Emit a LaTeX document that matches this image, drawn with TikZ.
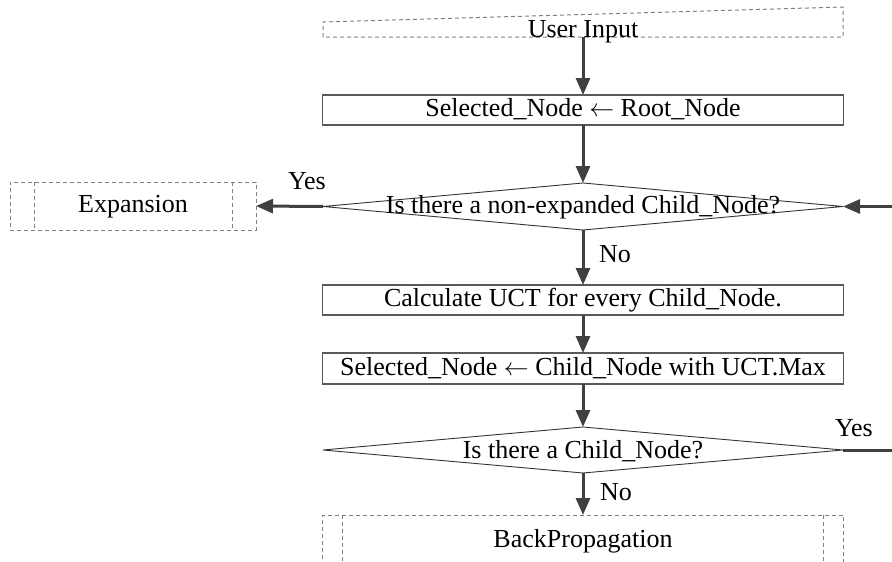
\documentclass[tikz,border=0pt]{standalone}
\usepackage{fontspec}
\setmainfont{Liberation Serif}
\usetikzlibrary{arrows.meta,shapes.geometric}
\newcommand{\myarr}{\ensuremath{\leftarrow}}
\begin{document}
\begin{tikzpicture}[x=1pt,y=-1pt,
  every node/.style={font=\fontsize{26}{30}\selectfont, inner sep=0pt, outer sep=0pt},
  procbox/.style={draw=black!65, line width=1.2pt, minimum width=521pt, minimum height=30pt, text height=18pt, text depth=5pt},
  dashbox/.style={draw=black!50, line width=1pt, dash pattern=on 4pt off 3pt, text height=18pt, text depth=5pt},
  decision/.style={draw=black!80, line width=0.9pt, diamond, minimum width=520pt, aspect=11},
  dtext/.style={text height=18pt, text depth=5pt},
  flow/.style={draw=black!75, line width=3pt, -{Triangle[length=17pt,width=14pt]}},
  lbl/.style={anchor=base west}
]
\useasboundingbox (0,0) rectangle (892,562);
\clip (0,0) rectangle (892,562);

% User Input (manual input)
\node[minimum width=520pt, minimum height=30pt] (ui) at (583,22) {};
\draw[draw=black!50, line width=1pt, dash pattern=on 4pt off 3pt]
  (ui.south west) -- (ui.west) -- (ui.north east) -- (ui.south east) -- cycle;
\node[anchor=base] (uit) at (ui.south) {User Input};

% Process boxes
\node[procbox] (b1) at (583,110) {Selected\_Node \myarr{} Root\_Node};
\node[decision, minimum height=47pt] (d1) at (583,206.5) {};
\node[dtext] (d1t) at (d1.center) {Is there a non-expanded Child\_Node?};
\node[procbox] (b2) at (583,300) {Calculate UCT for every Child\_Node.};
\node[procbox, minimum height=31pt] (b3) at (583,368.5) {Selected\_Node \myarr{} Child\_Node with UCT.Max};
\node[decision, minimum height=46pt] (d2) at (583,450) {};
\node[dtext] (d2t) at ([yshift=-2pt]d2.center) {Is there a Child\_Node?};

% Expansion (predefined process)
\node[dashbox, minimum width=246pt, minimum height=48pt] (exp) at (133,206) {Expansion};
\draw[draw=black!50, line width=1pt, dash pattern=on 4pt off 3pt]
  ([xshift=24pt]exp.north west) -- ([xshift=24pt]exp.south west)
  ([xshift=-24pt]exp.north east) -- ([xshift=-24pt]exp.south east);

% BackPropagation (predefined process)
\node[dashbox, minimum width=521pt, minimum height=52pt] (bp) at (583,541) {BackPropagation};
\draw[draw=black!50, line width=1pt, dash pattern=on 4pt off 3pt]
  ([xshift=20pt]bp.north west) -- ([xshift=20pt]bp.south west)
  ([xshift=-20pt]bp.north east) -- ([xshift=-20pt]bp.south east);

% Connectors
\draw[flow] (ui.south) -- (b1.north);
\draw[flow] (b1.south) -- (d1.north);
\draw[flow] (d1.west) -- (exp.east);
\draw[flow] (d1.south) -- (b2.north);
\draw[flow] (b2.south) -- (b3.north);
\draw[flow] (b3.south) -- (d2.north);
\draw[flow] (d2.south) -- (bp.north);
\coordinate (loop) at (930,450);
\draw[flow] (d2.east) -- (loop) |- (d1.east);

% Labels
\node[lbl] (yes1) at (288,189) {Yes};
\node[lbl] (no1) at (599,262) {No};
\node[lbl] (yes2) at (835,436) {Yes};
\node[lbl] (no2) at (600,500) {No};
\end{tikzpicture}
\end{document}
